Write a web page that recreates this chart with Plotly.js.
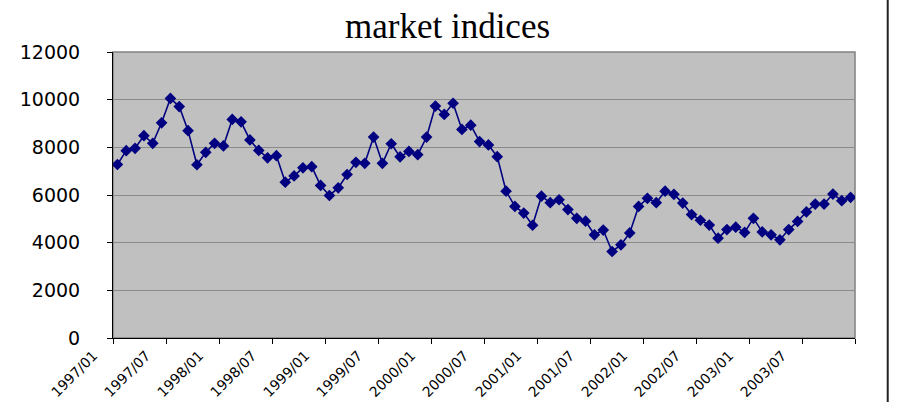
<!DOCTYPE html>
<html>
<head>
<meta charset="utf-8">
<script src="https://cdn.plot.ly/plotly-3.0.1.min.js"></script>
<style>html,body{margin:0;padding:0;background:#fff;}#chart{width:905px;height:402px;}</style>
</head>
<body>
<div id="chart"></div>
<script>
// Monthly categories 1997/01 .. 2003/12
const years = [1997, 1998, 1999, 2000, 2001, 2002, 2003];
const months = ["01","02","03","04","05","06","07","08","09","10","11","12"];
const categories = [];
years.forEach(y => months.forEach(m => categories.push(y + "/" + m)));

const indexValues = [
  7280, 7860, 7960, 8490, 8170, 9030, 10050, 9710, 8700, 7270, 7790, 8170,
  8060, 9170, 9070, 8310, 7870, 7560, 7650, 6540, 6800, 7140, 7190, 6400,
  5980, 6300, 6860, 7370, 7330, 8430, 7330, 8150, 7600, 7830, 7690, 8430,
  9730, 9380, 9850, 8750, 8930, 8240, 8100, 7610, 6160, 5520, 5240, 4730,
  5950, 5680, 5800, 5390, 5020, 4900, 4330, 4530, 3630, 3910, 4410, 5520,
  5860, 5680, 6160, 6030, 5660, 5180, 4940, 4740, 4190, 4550, 4650, 4430,
  5020, 4450, 4330, 4120, 4550, 4890, 5290, 5620, 5620, 6040, 5760, 5900
];

const titleText = "market indices";

const trace = {
  type: "scatter",
  mode: "lines+markers",
  x: categories,
  y: indexValues,
  line: {color: "#000080", width: 1.6},
  marker: {symbol: "diamond", size: 9, color: "#000080"},
  hoverinfo: "x+y"
};

const layout = {
  width: 905,
  height: 402,
  margin: {l: 113, r: 50, t: 52, b: 64},
  paper_bgcolor: "#ffffff",
  plot_bgcolor: "#c0c0c0",
  showlegend: false,
  title: {
    text: titleText,
    font: {family: "Liberation Serif, Times New Roman, serif", size: 35, color: "#000"},
    xref: "container", x: 0.4945,
    yref: "container", y: 0.935, yanchor: "middle"
  },
  xaxis: {
    type: "category",
    tickmode: "linear",
    tick0: 0,
    dtick: 6,
    tickson: "boundaries",
    ticks: "outside",
    ticklen: 5,
    tickcolor: "#000",
    tickangle: -45,
    ticklabelshift: -24,
    ticklabelstandoff: 3,
    tickfont: {family: "DejaVu Sans, Arial, sans-serif", size: 14, color: "#000"},
    showgrid: false,
    showline: true,
    linecolor: "#000",
    linewidth: 1,
    zeroline: false,
    range: [-0.5, 83.5]
  },
  yaxis: {
    range: [0, 12000],
    tickmode: "linear",
    tick0: 0,
    dtick: 2000,
    tickformat: "d",
    ticks: "outside",
    ticklen: 5,
    tickcolor: "#000",
    ticklabelstandoff: 23,
    tickfont: {family: "DejaVu Sans, Arial, sans-serif", size: 19, color: "#000"},
    showgrid: true,
    gridcolor: "#8a8a8a",
    gridwidth: 1,
    showline: true,
    linecolor: "#000",
    linewidth: 1,
    zeroline: false
  },
  shapes: [
    {type: "rect", xref: "paper", yref: "paper", x0: 0, x1: 1, y0: 0, y1: 1,
     line: {color: "#808080", width: 1.5}, layer: "below"},
    {type: "line", xref: "paper", yref: "paper", x0: 1.0441, x1: 1.0441, y0: -0.23, y1: 1.19,
     line: {color: "#222", width: 2}}
  ]
};

Plotly.newPlot("chart", [trace], layout, {displayModeBar: false, staticPlot: true});
</script>
</body>
</html>
